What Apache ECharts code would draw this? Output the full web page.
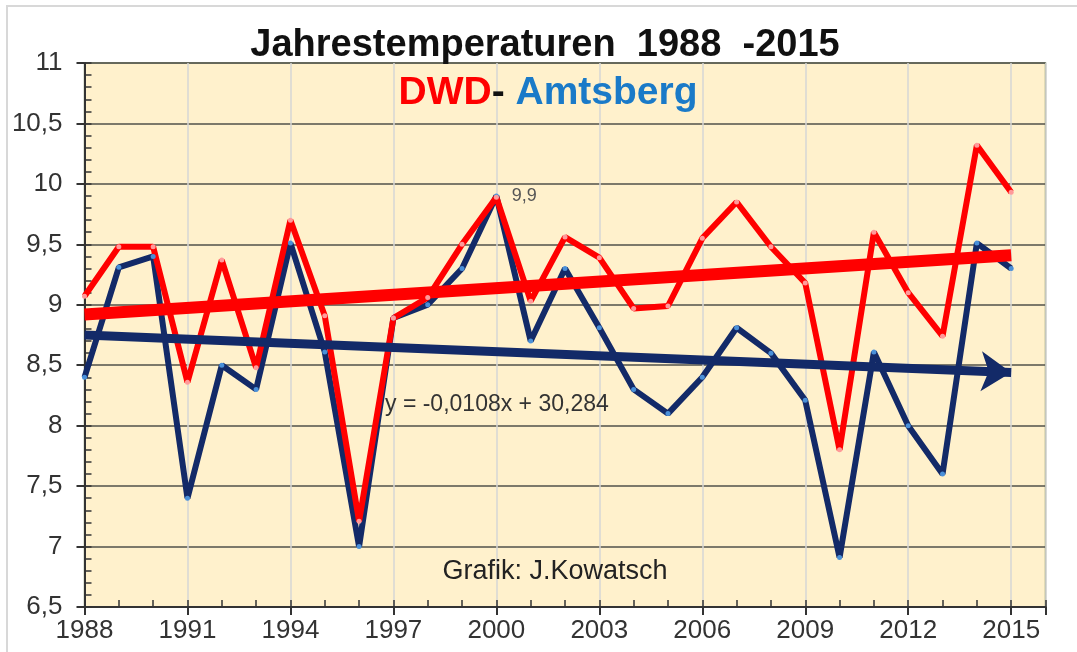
<!DOCTYPE html>
<html>
<head>
<meta charset="utf-8">
<script src="https://cdn.jsdelivr.net/npm/echarts@6/dist/echarts.min.js"></script>
<style>
    html,body{margin:0;padding:0;background:#fff}
    #chart{width:1077px;height:652px}
</style>
</head>
<body>
<div id="chart"></div>
<script>
// Jahresmittel in °C
var years = [1988,1989,1990,1991,1992,1993,1994,1995,1996,1997,1998,1999,2000,2001,
             2002,2003,2004,2005,2006,2007,2008,2009,2010,2011,2012,2013,2014,2015];
var dwd = [9.07,9.48,9.48,8.36,9.37,8.48,9.70,8.91,7.21,8.89,9.06,9.50,9.89,9.03,
           9.56,9.39,8.97,8.99,9.55,9.85,9.48,9.18,7.80,9.60,9.10,8.74,10.32,9.93];
var amtsberg = [8.40,9.31,9.40,7.40,8.50,8.30,9.51,8.61,7.00,8.89,9.00,9.30,9.90,8.70,
                9.30,8.81,8.30,8.10,8.40,8.81,8.60,8.21,6.91,8.61,8.00,7.60,9.51,9.30];
// Trendlinien (Anfang / Ende)
var dwdTrendYears = [1988, 2015];
var dwdTrend = [8.92, 9.41];
var amtsTrendYears = [1988, 2015];
var amtsTrend = [8.75, 8.44];
var yTicks = [6.5, 11];
var firstYear = 1988;
var lastYear = 2016;

var red = '#ff0000';
var navy = '#132a68';

function xy(ys, vals){
    var out = [];
    for(var i=0;i<vals.length;i++){
        out.push([ys[i]-firstYear, vals[i]]);
    }
    return out;
}

var amtsData = xy(years, amtsberg);
var peak = years.indexOf(2000);
amtsData[peak] = {
    value: amtsData[peak],
    label: {show:true, position:'right', distance:13, formatter:'9,9',
            color:'#555', fontSize:18, fontFamily:'Liberation Sans'}
};

var myChart = echarts.init(document.getElementById('chart'));
myChart.setOption({
    backgroundColor:'#fff',
    animation:false,
    grid:{
        left:84.5, right:31.5, top:63, bottom:45,
        show:true, backgroundColor:'#fff1cc', borderColor:'#8c9a76', borderWidth:1.5,
        containLabel:false, outerBoundsMode:'none'
    },
    xAxis:[{
        type:'value', position:'bottom', min:0, max:lastYear-firstYear, interval:3,
        axisLine:{onZero:false, lineStyle:{color:'#333', width:2}},
        axisTick:{length:8, lineStyle:{color:'#333', width:2}},
        axisLabel:{
            margin:11, color:'#333', fontSize:26, fontFamily:'Liberation Sans',
            formatter:function(v){ return v > 27 ? '' : String(v + firstYear); }
        },
        splitLine:{show:true, lineStyle:{color:'#d6d6d6', width:1.5}}
    },{
        type:'value', position:'bottom', min:0, max:lastYear-firstYear, interval:1,
        axisLine:{show:false, onZero:false},
        axisTick:{inside:true, length:7, lineStyle:{color:'#333', width:1.5}},
        axisLabel:{show:false},
        splitLine:{show:false}
    }],
    yAxis:[{
        type:'value', position:'left', min:yTicks[0], max:yTicks[1], interval:0.5,
        axisLine:{show:true, onZero:false, lineStyle:{color:'#333', width:2}},
        axisTick:{show:true, length:8, lineStyle:{color:'#333', width:2}},
        axisLabel:{
            margin:22, color:'#333', fontSize:26, fontFamily:'Liberation Sans',
            formatter:function(v){ return String(+v.toFixed(1)).replace('.', ','); }
        },
        splitLine:{show:true, lineStyle:{color:'#50504a', width:1.5}}
    },{
        type:'value', position:'left', min:yTicks[0], max:yTicks[1], interval:0.1,
        axisLine:{show:false, onZero:false},
        axisTick:{inside:true, length:7, lineStyle:{color:'#333', width:1.5}},
        axisLabel:{show:false},
        splitLine:{show:false}
    }],
    series:[{
        name:'Amtsberg', type:'line', data:amtsData,
        symbol:'circle', symbolSize:5,
        itemStyle:{color:'#4a90d9'},
        lineStyle:{color:navy, width:6}
    },{
        name:'DWD', type:'line', data:xy(years, dwd),
        symbol:'circle', symbolSize:5,
        itemStyle:{color:'#ff9a9a'},
        lineStyle:{color:red, width:6}
    },{
        name:'DWD Trend', type:'line', data:xy(dwdTrendYears, dwdTrend),
        symbol:'none',
        lineStyle:{color:red, width:12}
    },{
        name:'Amtsberg Trend', type:'line', data:[],
        markLine:{
            silent:true, symbol:['none','arrow'], symbolSize:[30,30],
            label:{show:false},
            lineStyle:{color:navy, width:9, type:'solid'},
            data:[[{coord:xy(amtsTrendYears, amtsTrend)[0]},{coord:xy(amtsTrendYears, amtsTrend)[1]}]]
        }
    }],
    graphic:[{
        type:'rect', silent:true, z:-10,
        shape:{x:7, y:6, width:1100, height:700},
        style:{fill:'none', stroke:'#d8d8d8', lineWidth:2}
    },{
        type:'text', z:100,
        style:{text:'Jahrestemperaturen  1988  -2015', x:545, y:46, align:'center', verticalAlign:'middle',
               font:'bold 38px "Liberation Sans"', fill:'#111'}
    },{
        type:'text', z:100,
        style:{text:'{r|DWD}{k|- }{b|Amtsberg}', x:548, y:93, align:'center', verticalAlign:'middle',
               font:'bold 39px "Liberation Sans"',
               rich:{
                   r:{fill:red, font:'bold 39px "Liberation Sans"'},
                   k:{fill:'#111', font:'bold 39px "Liberation Sans"'},
                   b:{fill:'#1a7ac8', font:'bold 39px "Liberation Sans"'}
               }}
    },{
        type:'text', z:100,
        style:{text:'y = -0,0108x + 30,284', x:385, y:405, align:'left', verticalAlign:'middle',
               font:'23px "Liberation Sans"', fill:'#333'}
    },{
        type:'text', z:100,
        style:{text:'Grafik: J.Kowatsch', x:555, y:572, align:'center', verticalAlign:'middle',
               font:'27px "Liberation Sans"', fill:'#222'}
    }]
});
</script>
</body>
</html>
